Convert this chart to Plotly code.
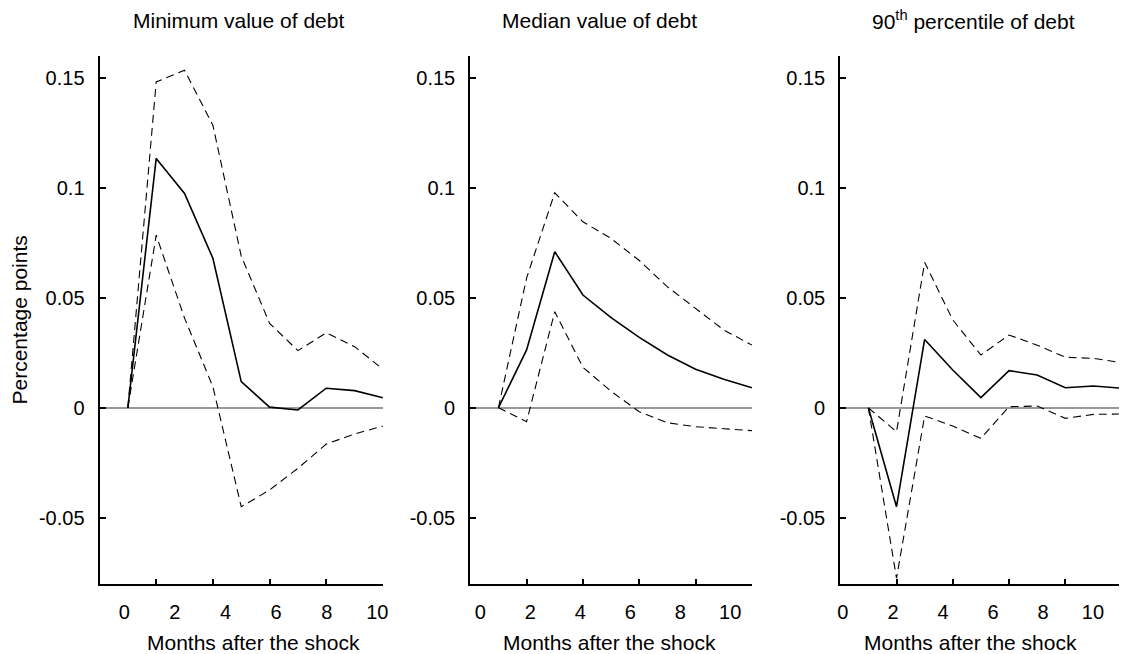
import plotly.graph_objects as go

# ---------------- data ----------------
months = [1, 2, 3, 4, 5, 6, 7, 8, 9, 10]

min_est = [0.0, 0.1134, 0.0975, 0.068, 0.0119, 0.0003, -0.001, 0.0089, 0.0078, 0.0046]
min_hi = [0.0, 0.1482, 0.1535, 0.1285, 0.069, 0.0384, 0.026, 0.0341, 0.0278, 0.0175]
min_lo = [0.0, 0.0785, 0.0408, 0.0096, -0.045, -0.0374, -0.0275, -0.0165, -0.0119, -0.0083]

med_est = [0.0, 0.0263, 0.071, 0.0513, 0.041, 0.032, 0.024, 0.0175, 0.013, 0.0091]
med_hi = [0.0, 0.059, 0.0978, 0.0846, 0.077, 0.067, 0.055, 0.0452, 0.0354, 0.0285]
med_lo = [0.0, -0.0063, 0.0437, 0.0184, 0.0075, -0.0018, -0.0068, -0.0086, -0.0095, -0.0104]

p90_est = [0.0, -0.045, 0.0311, 0.0172, 0.0046, 0.0169, 0.0149, 0.0091, 0.0099, 0.0089]
p90_hi = [0.0, -0.0109, 0.0661, 0.040, 0.024, 0.0331, 0.0285, 0.023, 0.0225, 0.0205]
p90_lo = [0.0, -0.0775, -0.0037, -0.0083, -0.0139, 0.0005, 0.0008, -0.0048, -0.003, -0.0028]

panel_titles = ["Minimum value of debt", "Median value of debt", "90<sup>th</sup> percentile of debt"]
x_title = "Months after the shock"
y_title = "Percentage points"

y_tickvals = [0.15, 0.1, 0.05, 0, -0.05]
y_ticktext = ["0.15", "0.1", "0.05", "0", "-0.05"]
x_tick_marks = [2, 4, 6, 8, 10]
x_label_vals = [0, 2, 4, 6, 8, 10]
x_label_text = ["0", "2", "4", "6", "8", "10"]

# ---------------- layout geometry ----------------
W, H = 1125, 654
FONT = "Liberation Sans, Arial, Helvetica, sans-serif"
panels_px = [(97.3, 383.0), (471.0, 755.0), (844.0, 1125.0)]
data_ranges = [[0, 10], [0, 10], [0, 9.91]]
label_ranges = [[-0.98, 10.22], [-0.40, 10.87], [-0.107, 11.04]]
title_cx = [237, 601.7, 978]
xtitle_cx = [253, 611.3, 975.8]
ydom = [(H - 583.7) / H, (H - 56) / H]

series = [
    (min_est, min_hi, min_lo),
    (med_est, med_hi, med_lo),
    (p90_est, p90_hi, p90_lo),
]

fig = go.Figure()
for i, (est, hi, lo) in enumerate(series):
    xa = "x" if i == 0 else f"x{i+1}"
    ya = "y" if i == 0 else f"y{i+1}"
    for vals, dash, w in [(hi, "8px,5px", 1.1), (lo, "8px,5px", 1.1), (est, "solid", 1.6)]:
        fig.add_trace(go.Scatter(x=months, y=vals, mode="lines",
                                 line=dict(color="black", width=w, dash=dash),
                                 xaxis=xa, yaxis=ya, showlegend=False, hoverinfo="skip"))
    # empty trace on label axis
    fig.add_trace(go.Scatter(x=[], y=[], xaxis=f"x{i+4}", yaxis=ya,
                             showlegend=False, hoverinfo="skip"))

layout = dict(
    width=W, height=H,
    margin=dict(l=0, r=0, t=0, b=0),
    paper_bgcolor="white", plot_bgcolor="white",
    font=dict(family=FONT, size=20, color="black"),
    showlegend=False,
)

for i in range(3):
    x0, x1 = panels_px[i]
    dom = [x0 / W, min(x1 / W, 1.0)]
    xk = "xaxis" if i == 0 else f"xaxis{i+1}"
    yk = "yaxis" if i == 0 else f"yaxis{i+1}"
    yid = "y" if i == 0 else f"y{i+1}"
    xid = "x" if i == 0 else f"x{i+1}"
    layout[xk] = dict(domain=dom, range=data_ranges[i], anchor=yid,
                      showgrid=False, zeroline=False,
                      showline=True, linecolor="black", linewidth=2,
                      ticks="inside", ticklen=5, tickwidth=1.5, tickcolor="black",
                      tickvals=x_tick_marks, showticklabels=False, fixedrange=True)
    layout[f"xaxis{i+4}"] = dict(domain=dom, range=label_ranges[i], anchor=yid,
                                 overlaying=xid, side="bottom",
                                 showgrid=False, zeroline=False, showline=False,
                                 ticks="", tickvals=x_label_vals, ticktext=x_label_text,
                                 ticklabelstandoff=14,
                                 tickfont=dict(size=20), fixedrange=True)
    ya = dict(domain=ydom, range=[-0.08, 0.16], anchor=xid,
              showgrid=False, zeroline=True, zerolinecolor="#999999", zerolinewidth=2,
              showline=True, linecolor="black", linewidth=2,
              ticks="inside", ticklen=6, tickwidth=1.5, tickcolor="black",
              tickvals=y_tickvals, ticktext=y_ticktext,
              ticklabelstandoff=9,
              tickfont=dict(size=20), fixedrange=True)
    if i == 0:
        ya["title"] = dict(text=y_title, font=dict(size=21), standoff=6)
    layout[yk] = ya

annotations = []
for i in range(3):
    annotations.append(dict(text=panel_titles[i], x=title_cx[i] / W, y=1 - 20.5 / H,
                            xref="paper", yref="paper", xanchor="center", yanchor="middle",
                            showarrow=False, font=dict(size=21)))
    annotations.append(dict(text=x_title, x=xtitle_cx[i] / W, y=1 - 642 / H,
                            xref="paper", yref="paper", xanchor="center", yanchor="middle",
                            showarrow=False, font=dict(size=21)))
layout["annotations"] = annotations

fig.update_layout(**layout)
fig.write_html("out.html")
